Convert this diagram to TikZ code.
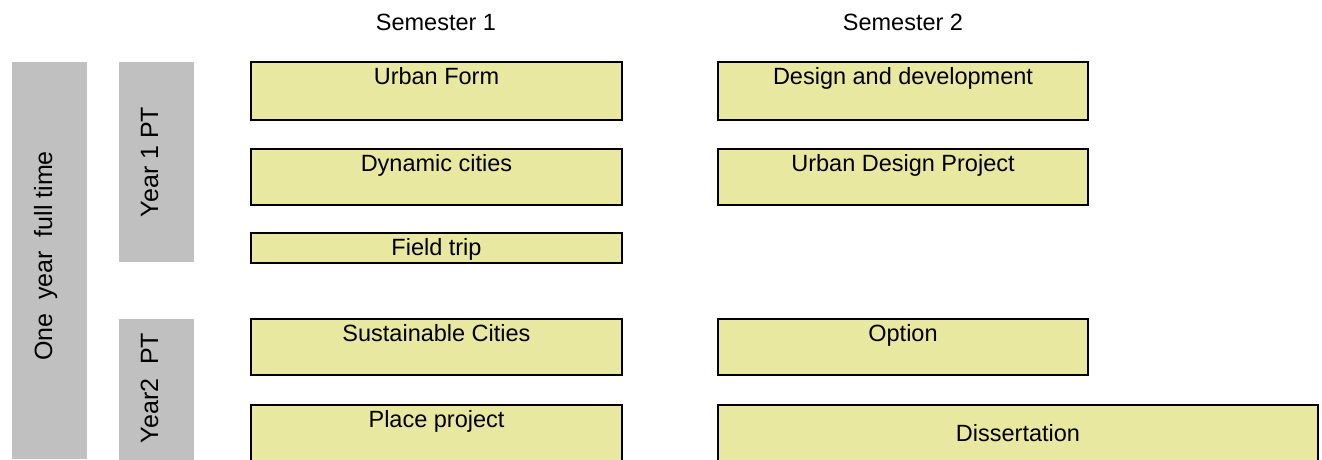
\documentclass[tikz,border=0pt]{standalone}
\usepackage{fontspec}
\setmainfont{Liberation Sans}
\definecolor{boxyellow}{RGB}{232,232,160}
\definecolor{bargray}{RGB}{192,192,192}

\begin{document}
\begin{tikzpicture}[x=1pt,y=-1pt,
    course/.style={draw=black, line width=1.6pt, fill=boxyellow, inner sep=0pt, minimum height=56pt},
    coursetext/.style={anchor=base, font=\fontsize{23.5}{26}\selectfont, inner sep=0pt},
    yearbar/.style={fill=bargray, inner sep=0pt, minimum width=75pt},
    bartext/.style={anchor=base, rotate=90, font=\fontsize{25}{28}\selectfont, inner sep=0pt}]
    \useasboundingbox (0,0) rectangle (1322,459);
    \clip (0,0) rectangle (1322,459);

    % headings
    \node[coursetext] (sem1) at (436,30) {Semester 1};
    \node[coursetext] (sem2) at (903,30) {Semester 2};

    % grey bars
    \node[yearbar, minimum height=397pt] (full) at (49.5,260.5) {};
    \node[yearbar, minimum height=200pt] (pt1) at (156.5,162) {};
    \node[yearbar, minimum height=160pt] (pt2) at (156.5,399) {};
    \node[bartext] (fulltxt) at (52,256) {One\ \ year\ \ full time};
    \node[bartext] (pt1txt) at (158,162) {Year 1 PT};
    \node[bartext] (pt2txt) at (158,388) {Year2\ \ PT};

    % semester 1
    \node[course, minimum width=371pt, minimum height=58pt] (uf) at (436.5,91) {};
    \node[course, minimum width=371pt] (dc) at (436.5,177) {};
    \node[course, minimum width=371pt, minimum height=30pt] (ft) at (436.5,248) {};
    \node[course, minimum width=371pt] (sc) at (436.5,347) {};
    \node[course, minimum width=371pt, minimum height=120pt] (pp) at (436.5,465) {};
    \node[coursetext] at ([yshift=-23pt]uf.north) {Urban Form};
    \node[coursetext] at ([yshift=-23pt]dc.north) {Dynamic cities};
    \node[coursetext] at ([yshift=-23pt]ft.north) {Field trip};
    \node[coursetext] at ([yshift=-23pt]sc.north) {Sustainable Cities};
    \node[coursetext] at ([yshift=-23pt]pp.north) {Place project};

    % semester 2
    \node[course, minimum width=370pt, minimum height=58pt] (dd) at (903,91) {};
    \node[course, minimum width=370pt] (udp) at (903,177) {};
    \node[course, minimum width=370pt] (opt) at (903,347) {};
    \node[course, minimum width=600pt, minimum height=120pt] (diss) at (1018,465) {};
    \node[coursetext] at ([yshift=-23pt]dd.north) {Design and development};
    \node[coursetext] at ([yshift=-23pt]udp.north) {Urban Design Project};
    \node[coursetext] at ([yshift=-23pt]opt.north) {Option};
    \node[coursetext] at ([yshift=-37pt]diss.north) {Dissertation};
\end{tikzpicture}
\end{document}
